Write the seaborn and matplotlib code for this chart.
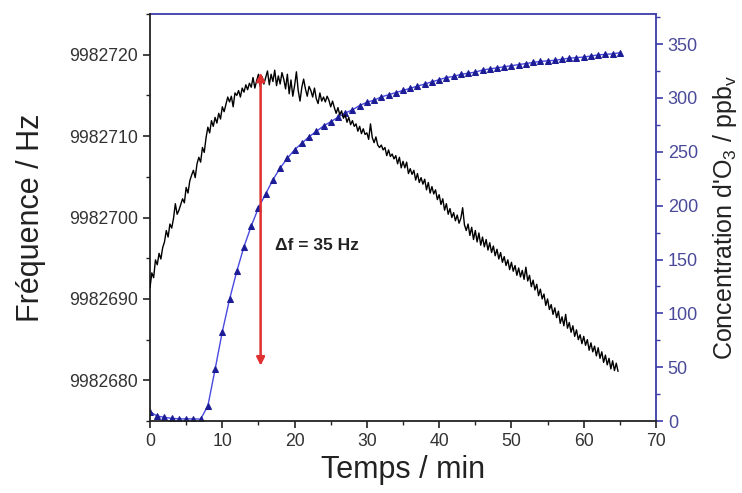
import numpy as np
import pandas as pd
import matplotlib
matplotlib.use("Agg")
import matplotlib.pyplot as plt
from matplotlib.ticker import MultipleLocator, FormatStrFormatter
import seaborn as sns

# frequency trace, sampled every 0.25 min, stored as offset above 9982000 Hz
FREQ_BASE = 9982000
freq_step_min = 0.25
freq_offset = [
    691.4, 693.2, 692.6, 694.8, 694.2, 695.6, 694.9, 696.3,
    697.0, 698.4, 697.6, 699.2, 698.7, 699.9, 701.7, 700.4,
    700.9, 701.6, 702.3, 701.8, 703.7, 703.0, 704.5, 705.2,
    705.8, 704.9, 706.6, 707.4, 706.8, 708.6, 708.0, 709.8,
    711.1, 710.4, 711.9, 711.2, 712.3, 711.6, 712.8, 712.1,
    713.6, 713.0, 713.9, 714.8, 714.2, 714.9, 713.6, 715.3,
    715.0, 715.6, 714.8, 715.9, 715.4, 716.3, 715.7, 716.5,
    716.0, 717.2, 715.9, 716.8, 717.6, 716.1, 717.3, 716.4,
    717.2, 718.0, 716.3, 717.6, 716.7, 718.1, 716.2, 717.4,
    716.4, 717.8, 717.0, 715.8, 717.6, 715.2, 716.9, 714.9,
    716.2, 717.9, 715.6, 714.3, 716.0, 717.0, 715.8, 714.9,
    716.1, 715.6, 714.8, 715.9, 714.6, 714.0, 715.3, 714.3,
    714.8, 714.2, 714.9, 714.4, 713.6, 714.3, 713.5, 712.8,
    713.5, 712.6, 713.1, 712.2, 712.6, 711.7, 712.3, 711.4,
    711.9, 711.2, 711.5, 710.6, 711.2, 710.3, 710.9, 710.2,
    710.4, 709.6, 711.5, 709.8, 709.2, 709.9, 708.9, 708.6,
    708.9, 708.3, 708.6, 707.6, 708.3, 707.5, 707.8, 707.2,
    707.6, 706.6, 707.4, 706.1, 706.9, 706.1, 706.8, 705.4,
    706.0, 705.3, 705.8, 704.6, 705.4, 704.3, 704.9, 704.1,
    704.7, 703.4, 704.3, 703.0, 703.8, 702.9, 703.4, 702.2,
    702.8, 701.6, 702.3, 700.9, 701.7, 700.4, 701.1, 700.0,
    700.6, 699.6, 700.3, 699.3, 699.9, 701.2, 699.1, 698.4,
    699.2, 697.8, 698.8, 697.3, 698.4, 697.0, 698.1, 696.6,
    697.6, 696.4, 697.3, 696.0, 696.9, 695.7, 696.5, 695.3,
    696.1, 694.9, 695.7, 694.5, 695.2, 694.1, 694.8, 693.6,
    694.5, 693.4, 694.1, 692.9, 693.8, 692.7, 693.5, 692.4,
    693.9, 692.2, 692.9, 691.5, 692.3, 691.1, 691.8, 690.4,
    691.2, 690.0, 690.6, 689.2, 690.0, 688.7, 689.3, 688.1,
    688.9, 687.7, 688.5, 687.0, 687.8, 686.7, 688.1, 686.4,
    687.1, 685.9, 686.7, 685.4, 686.2, 685.0, 685.6, 684.5,
    685.4, 684.3, 685.0, 683.7, 684.6, 683.5, 684.2, 683.0,
    684.0, 682.7, 683.5, 682.2, 683.1, 681.9, 682.7, 681.4,
    682.4, 681.2, 682.1, 681.1,
]

# ozone concentration, one point per minute (0..65)
conc_time = list(range(66))
conc_ppb = [
    8.6, 4.6, 3.4, 2.5, 2.0, 2.0, 2.0, 1.8, 14, 48,
    83, 113, 139, 162, 181, 198, 211, 224, 235, 244,
    252, 258, 264, 269, 274, 278, 282, 286, 289, 293,
    296, 298, 301, 303, 305, 307, 309, 311, 313, 315,
    317, 319, 320, 322, 323, 324, 326, 327, 328, 329,
    330, 331, 332, 333, 334, 334.5, 335, 336, 337, 337.5,
    338, 339, 340, 340.5, 341, 342,
]

# delta-f annotation
arrow_time = 15.3
arrow_top = 9982717.8
arrow_bottom = 9982681.8
delta_label = "Δf = 35 Hz"

sns.set_style("ticks")
plt.rcParams["font.family"] = ["Liberation Sans", "DejaVu Sans"]
plt.rcParams["mathtext.fontset"] = "custom"
plt.rcParams["mathtext.rm"] = "Liberation Sans"
plt.rcParams["mathtext.it"] = "Liberation Sans:italic"

freq_df = pd.DataFrame({
    "time": np.arange(len(freq_offset)) * freq_step_min,
    "freq": np.array(freq_offset) + FREQ_BASE,
})
conc_df = pd.DataFrame({"time": conc_time, "conc": conc_ppb})

blue_axis = "#3c3ca8"
blue_line = "#4a4ae0"
blue_mark = "#1c1c96"

fig = plt.figure(figsize=(7.42, 4.93), dpi=100)
ax = fig.add_axes([0.2022, 0.146, 0.6819, 0.8256])
ax2 = ax.twinx()

sns.lineplot(data=freq_df, x="time", y="freq", ax=ax, color="black",
             linewidth=1.0, zorder=3)
sns.lineplot(data=conc_df, x="time", y="conc", ax=ax2, color=blue_line,
             linewidth=1.0, marker="^", markersize=4.5,
             markerfacecolor=blue_mark, markeredgecolor=blue_mark)

ax.set_xlim(0, 70)
ax.set_ylim(9982675, 9982725)
ax2.set_ylim(0, 378)

ax.xaxis.set_major_locator(MultipleLocator(10))
ax.xaxis.set_minor_locator(MultipleLocator(5))
ax.yaxis.set_major_locator(MultipleLocator(10))
ax.yaxis.set_minor_locator(MultipleLocator(5))
ax.yaxis.set_major_formatter(FormatStrFormatter("%d"))
ax2.yaxis.set_major_locator(MultipleLocator(50))
ax2.yaxis.set_minor_locator(MultipleLocator(25))

ax.tick_params(axis="both", which="major", direction="out", length=5,
               width=1.2, labelsize=12.7, colors="#222222", labelcolor="#333333")
ax.tick_params(axis="both", which="minor", direction="out", length=3,
               width=1.0, colors="#222222")
ax2.tick_params(axis="y", which="major", direction="out", length=5,
                width=1.2, labelsize=13, colors=blue_axis, labelcolor="#4a4a9a")
ax2.tick_params(axis="y", which="minor", direction="out", length=3,
                width=1.0, colors=blue_axis)

for name in ["left", "bottom"]:
    ax.spines[name].set_color("#222222")
    ax.spines[name].set_linewidth(1.3)
ax2.spines["right"].set_color(blue_axis)
ax2.spines["top"].set_color(blue_axis)
ax2.spines["right"].set_linewidth(1.3)
ax2.spines["top"].set_linewidth(1.3)
ax.spines["top"].set_visible(False)
ax.spines["right"].set_visible(False)
ax2.spines["left"].set_visible(False)
ax2.spines["bottom"].set_visible(False)

ax.set_xlabel("Temps / min", fontsize=22, color="#222222", labelpad=4)
ax.set_ylabel("Fréquence / Hz", fontsize=22, color="#222222", labelpad=17)
ax2.set_ylabel("Concentration d'O$_\\mathrm{3}$ / ppb$_\\mathrm{v}$",
               fontsize=18, color="#222222", labelpad=9)

# keep the frequency trace drawn over the concentration curve
ax.set_zorder(ax2.get_zorder() + 1)
ax.patch.set_visible(False)

ax.annotate("", xy=(arrow_time, arrow_top), xytext=(arrow_time, arrow_bottom),
            arrowprops=dict(arrowstyle="<|-|>", color="#e03030", lw=1.8,
                            mutation_scale=12, shrinkA=0, shrinkB=0),
            zorder=4)
ax.text(17.3, 9982696.6, delta_label, fontsize=12.5, fontweight="bold",
        color="#222222", va="center", ha="left")

fig.savefig("out.png", dpi=100)
